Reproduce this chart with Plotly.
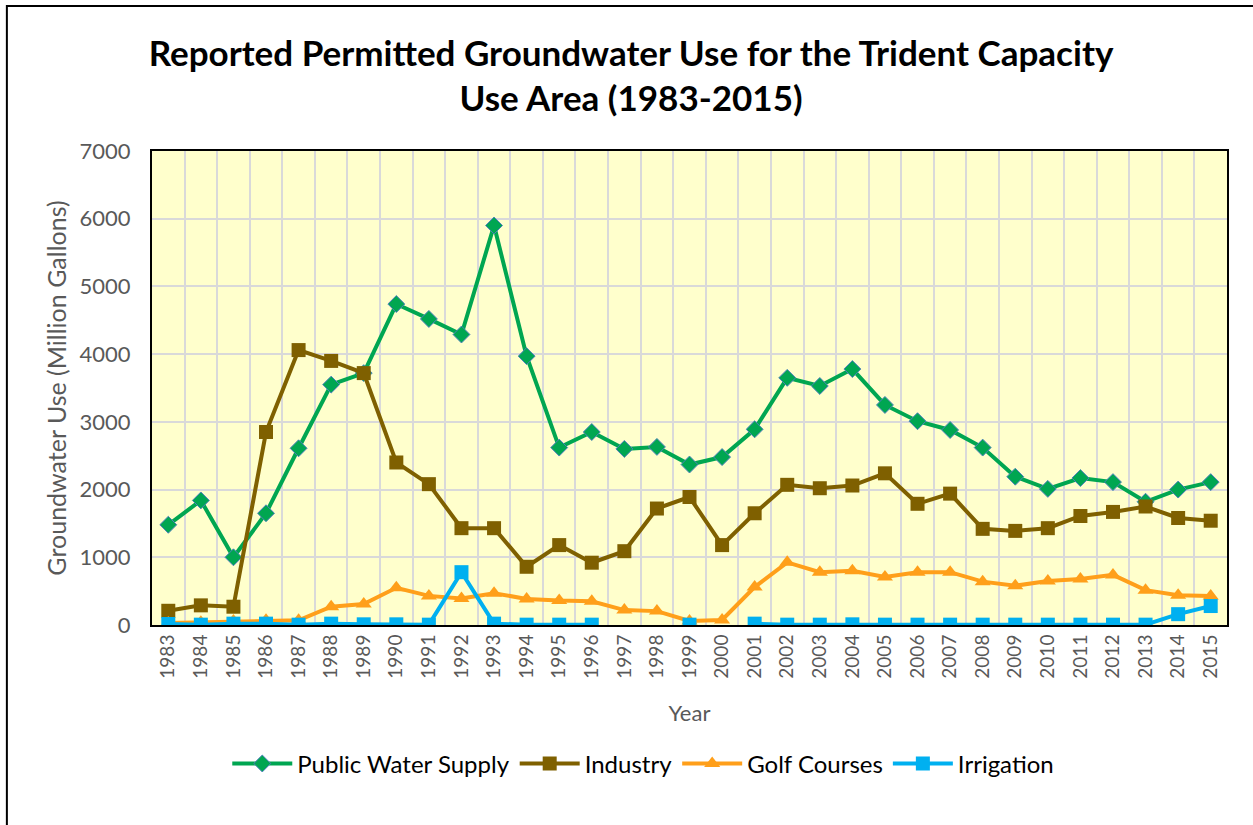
import plotly.graph_objects as go

years = [str(y) for y in range(1983, 2016)]

public_water_supply = [1480, 1840, 1000, 1650, 2610, 3550, 3720, 4740, 4520, 4290,
                       5900, 3970, 2620, 2850, 2600, 2630, 2370, 2480, 2890, 3650,
                       3530, 3780, 3250, 3010, 2880, 2620, 2190, 2010, 2170, 2110,
                       1820, 2000, 2110]
industry = [210, 290, 270, 2850, 4060, 3900, 3720, 2400, 2080, 1430,
            1430, 860, 1180, 920, 1090, 1720, 1890, 1180, 1650, 2070,
            2020, 2060, 2240, 1790, 1940, 1420, 1390, 1430, 1610, 1670,
            1750, 1580, 1540]
golf_courses = [30, 40, 60, 70, 70, 270, 310, 550, 430, 390,
                470, 385, 360, 350, 220, 205, 60, 75, 560, 925,
                780, 800, 710, 780, 780, 640, 580, 650, 680, 740,
                515, 440, 430]
irrigation = [15, 5, 20, 20, 5, 20, 10, 10, 5, 780,
              20, 5, 5, 5, None, None, 5, None, 20, 5,
              5, 10, 5, 5, 5, 5, 5, 5, 5, 5,
              5, 160, 280]

fig = go.Figure()

fig.add_trace(go.Scatter(
    x=years, y=public_water_supply, name="Public Water Supply", mode="lines+markers",
    line=dict(color="#00A651", width=4),
    marker=dict(symbol="diamond", size=13, color="#00A651", line=dict(color="#4F81BD", width=1))))
fig.add_trace(go.Scatter(
    x=years, y=industry, name="Industry", mode="lines+markers",
    line=dict(color="#7F6000", width=4),
    marker=dict(symbol="square", size=14, color="#7F6000")))
fig.add_trace(go.Scatter(
    x=years, y=golf_courses, name="Golf Courses", mode="lines+markers",
    line=dict(color="#FF9F1A", width=4),
    marker=dict(symbol="triangle-up", size=14, color="#FF9F1A")))
fig.add_trace(go.Scatter(
    x=years, y=irrigation, name="Irrigation", mode="lines+markers",
    connectgaps=False,
    line=dict(color="#00B0F0", width=4),
    marker=dict(symbol="square", size=14, color="#00B0F0")))

fig.update_layout(
    width=1253, height=825,
    margin=dict(l=152, r=26, t=151, b=200),
    paper_bgcolor="white",
    plot_bgcolor="#FFFFCC",
    font=dict(family="Lato, Open Sans, sans-serif", color="#595959"),
    title=dict(
        text="Reported Permitted Groundwater Use for the Trident Capacity<br>Use Area (1983-2015)",
        x=0.5036, xanchor="center", y=0.9206, yanchor="middle",
        font=dict(family="Lato, sans-serif", size=35, color="black", weight="bold")),
    xaxis=dict(
        type="category", range=[-0.5, 32.5], tickangle=-90,
        tickson="boundaries", showgrid=True, gridcolor="#D9D9D9", gridwidth=2,
        ticks="", tickfont=dict(size=19, color="#595959"),
        title=dict(text="Year", font=dict(size=22, color="#595959"), standoff=28),
        showline=True, linecolor="black", linewidth=2, mirror=True, zeroline=False),
    yaxis=dict(
        range=[0, 7000], dtick=1000, showgrid=True, gridcolor="#D9D9D9", gridwidth=2,
        tickfont=dict(size=22, color="#595959"), ticks="", ticklabelstandoff=15,
        title=dict(text="Groundwater Use (Million Gallons)", font=dict(size=25, color="#595959"), standoff=6),
        showline=True, linecolor="black", linewidth=2, mirror=True, zeroline=False),
    legend=dict(
        orientation="h", x=0.457, xanchor="center", y=-0.293, yanchor="middle",
        font=dict(size=24, color="black"), itemwidth=60, bgcolor="rgba(0,0,0,0)",
        traceorder="normal"),
    showlegend=True,
)

fig.add_shape(type="rect", xref="paper", yref="paper",
              x0=-0.135, x1=1.2, y0=-0.6, y1=1.306,
              line=dict(color="black", width=2), fillcolor="rgba(0,0,0,0)", layer="below")

fig.write_html("out.html", config={"displayModeBar": False},
               post_script="document.body.style.margin='0';")
